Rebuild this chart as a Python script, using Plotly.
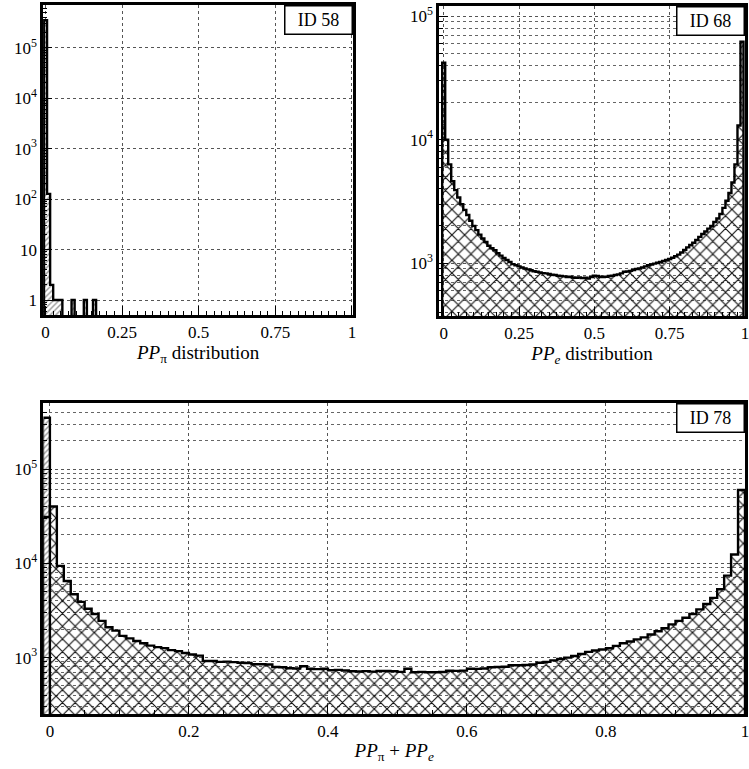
import numpy as np
import plotly.graph_objects as go

W, H = 749, 769
BIN = 0.01

# bin contents (bins are 0.01 wide)
pp_pi_counts = [350000, 127, 2, 1, 1, 1, 0, 0, 0, 1, 0, 0, 0, 1, 0, 0, 1]

pp_e_counts = [
    42000, 10000, 6300, 4600, 3900, 3400, 3000, 2700, 2450, 2200,
    2000, 1850, 1700, 1580, 1480, 1380, 1320, 1270, 1200, 1150,
    1100, 1060, 1020, 980, 960, 940, 920, 905, 890, 875,
    860, 850, 840, 830, 825, 815, 805, 800, 790, 785,
    780, 770, 775, 765, 760, 765, 755, 760, 750, 770,
    790, 785, 775, 770, 775, 785, 790, 800, 810, 825,
    850, 855, 865, 880, 895, 905, 920, 940, 960, 975,
    990, 1005, 1020, 1040, 1060, 1080, 1105, 1135, 1170, 1220,
    1280, 1340, 1400, 1460, 1540, 1630, 1720, 1800, 1900, 2000,
    2150, 2300, 2500, 2800, 3200, 3700, 4500, 6300, 13000, 62000,
]

sum_pi_counts = [350000]

sum_e_counts = [
    31000, 40000, 9400, 6500, 4700, 3900, 3300, 2900, 2450, 2100,
    1930, 1700, 1600, 1500, 1420, 1340, 1290, 1260, 1200, 1170,
    1120, 1080, 1050, 920, 920, 900, 905, 895, 880, 875,
    850, 850, 845, 795, 790, 770, 765, 810, 760, 755,
    760, 735, 740, 730, 715, 712, 718, 710, 720, 722,
    715, 705, 760, 700, 705, 698, 700, 704, 725, 722,
    728, 760, 758, 765, 790, 795, 800, 830, 828, 835,
    845, 880, 900, 935, 965, 1000, 1040, 1090, 1150, 1190,
    1220, 1255, 1330, 1420, 1480, 1560, 1640, 1760, 1900, 2050,
    2250, 2450, 2650, 2900, 3250, 3700, 4300, 5300, 7400, 12400,
    60000,
]

# lower edge of the first bin of each histogram
pp_pi_start = -0.005
pp_e_start = -0.005
sum_start = -0.01

x_ticks_top = [0, 0.25, 0.5, 0.75, 1]
x_labels_top = ["0", "0.25", "0.5", "0.75", "1"]
x_ticks_bottom = [0, 0.2, 0.4, 0.6, 0.8, 1]
x_labels_bottom = ["0", "0.2", "0.4", "0.6", "0.8", "1"]
y_ticks = [1, 10, 100, 1e3, 1e4, 1e5]
y_labels = ["1", "10", "10<sup>2</sup>", "10<sup>3</sup>", "10<sup>4</sup>", "10<sup>5</sup>"]
y_minor = [m * 10 ** e for e in range(-1, 6) for m in range(2, 10)]

FONT = "Liberation Serif"


def bars(counts, start, xa, ya, shape, size, solidity, bg=None):
    x = start + BIN * (np.arange(len(counts)) + 0.5)
    y = [c if c > 0 else None for c in counts]
    if bg:
        pattern = dict(shape=shape, size=size, solidity=solidity,
                       fgcolor="#333", bgcolor=bg, fillmode="overlay")
        color = bg
    else:
        pattern = dict(shape=shape, size=size, solidity=solidity, fillmode="replace")
        color = "#111"
    return go.Bar(x=x, y=y, width=BIN, xaxis=xa, yaxis=ya, hoverinfo="skip",
                  marker=dict(color=color, line_width=0, pattern=pattern))


def outline(counts, start, xa, ya):
    # histogram step contour, empty bins fall below the axis
    floor = 1e-3
    edges = start + BIN * np.arange(len(counts) + 1)
    vals = [c if c > 0 else floor for c in counts]
    x = [edges[0]] + list(edges)
    y = [floor] + vals + [floor]
    return go.Scatter(x=x, y=y, mode="lines", xaxis=xa, yaxis=ya, hoverinfo="skip",
                      line=dict(shape="hv", color="black", width=2.4))


fig = go.Figure()

# ID 58 : PP_pi
fig.add_trace(bars(pp_pi_counts, pp_pi_start, "x", "y", "/", 4, 0.35, bg="white"))
fig.add_trace(outline(pp_pi_counts, pp_pi_start, "x", "y"))

# ID 68 : PP_e
fig.add_trace(bars(pp_e_counts, pp_e_start, "x2", "y2", "x", 9, 0.24))
fig.add_trace(outline(pp_e_counts, pp_e_start, "x2", "y2"))

# ID 78 : both
fig.add_trace(bars(sum_e_counts, sum_start, "x3", "y3", "x", 9, 0.24))
fig.add_trace(bars(sum_pi_counts, sum_start, "x3", "y3", "/", 4, 0.35, bg="white"))
fig.add_trace(outline(sum_pi_counts, sum_start, "x3", "y3"))
fig.add_trace(outline(sum_e_counts, sum_start, "x3", "y3"))


def x_axis(domain, rng, anchor, vals, text, minor_dtick, title):
    return dict(
        domain=domain, range=rng, anchor=anchor,
        tickmode="array", tickvals=vals, ticktext=text,
        ticks="inside", ticklen=9, tickwidth=1, tickcolor="black",
        ticklabeloverflow="allow",
        showline=True, linewidth=2.5, linecolor="black", mirror=True,
        showgrid=True, gridcolor="#555", gridwidth=1, griddash="dot",
        zeroline=False, fixedrange=True,
        minor=dict(dtick=minor_dtick, tick0=0, ticks="inside", ticklen=4,
                   tickcolor="black", showgrid=False),
        tickfont=dict(family=FONT, size=17, color="black"),
        title=dict(text=title, standoff=4, font=dict(family=FONT, size=19, color="black")),
    )


def y_axis(domain, rng, anchor, minor_grid):
    return dict(
        domain=domain, type="log", range=rng, anchor=anchor,
        tickmode="array", tickvals=y_ticks, ticktext=y_labels,
        ticks="inside", ticklen=9, tickwidth=1, tickcolor="black",
        showline=True, linewidth=2.5, linecolor="black", mirror=True,
        showgrid=True, gridcolor="#555", gridwidth=1, griddash="dot",
        zeroline=False, fixedrange=True,
        minor=dict(tickmode="array", tickvals=y_minor, ticks="inside", ticklen=4,
                   tickcolor="black", showgrid=minor_grid,
                   gridcolor="#666", gridwidth=1, griddash="dot"),
        tickfont=dict(family=FONT, size=17, color="black"),
    )


fig.update_layout(
    width=W, height=H,
    margin=dict(l=0, r=0, t=0, b=0),
    paper_bgcolor="white", plot_bgcolor="white",
    showlegend=False, barmode="overlay", bargap=0,
    font=dict(family=FONT, size=17, color="black"),
    xaxis=x_axis([41.4 / W, 354 / W], [-0.008, 1.004], "y",
                 x_ticks_top, x_labels_top, 0.025,
                 "<i>PP</i><sub>π</sub> distribution"),
    yaxis=y_axis([1 - 314 / H, 1 - 3.3 / H], [-0.3, 5.84], "x", False),
    xaxis2=x_axis([440.7 / W, 1.0], [-0.015, 1.0], "y2",
                  x_ticks_top, x_labels_top, 0.025,
                  "<i>PP<sub>e</sub></i> distribution"),
    yaxis2=y_axis([1 - 315 / H, 1 - 3.8 / H], [2.57, 5.084], "x2", True),
    xaxis3=x_axis([41.7 / W, 1.0], [-0.0094, 1.0], "y3",
                  x_ticks_bottom, x_labels_bottom, 0.05,
                  "<i>PP</i><sub>π</sub> + <i>PP<sub>e</sub></i>"),
    yaxis3=y_axis([1 - 714 / H, 1 - 402.5 / H], [2.40, 5.696], "x3", True),
)

for xa, ya, label in [("x", "y", "ID 58"), ("x2", "y2", "ID 68"), ("x3", "y3", "ID 78")]:
    fig.add_annotation(
        xref=xa + " domain", yref=ya + " domain", x=1, y=1,
        xanchor="right", yanchor="top", text=label, showarrow=False,
        font=dict(family=FONT, size=18, color="black"),
        bgcolor="white", bordercolor="black", borderwidth=1.5,
        width=62, height=23, borderpad=2,
    )

# page margin would push the figure out of the window
fig.write_html("out.html", config={"displayModeBar": False},
               post_script="document.body.style.margin='0px';")
